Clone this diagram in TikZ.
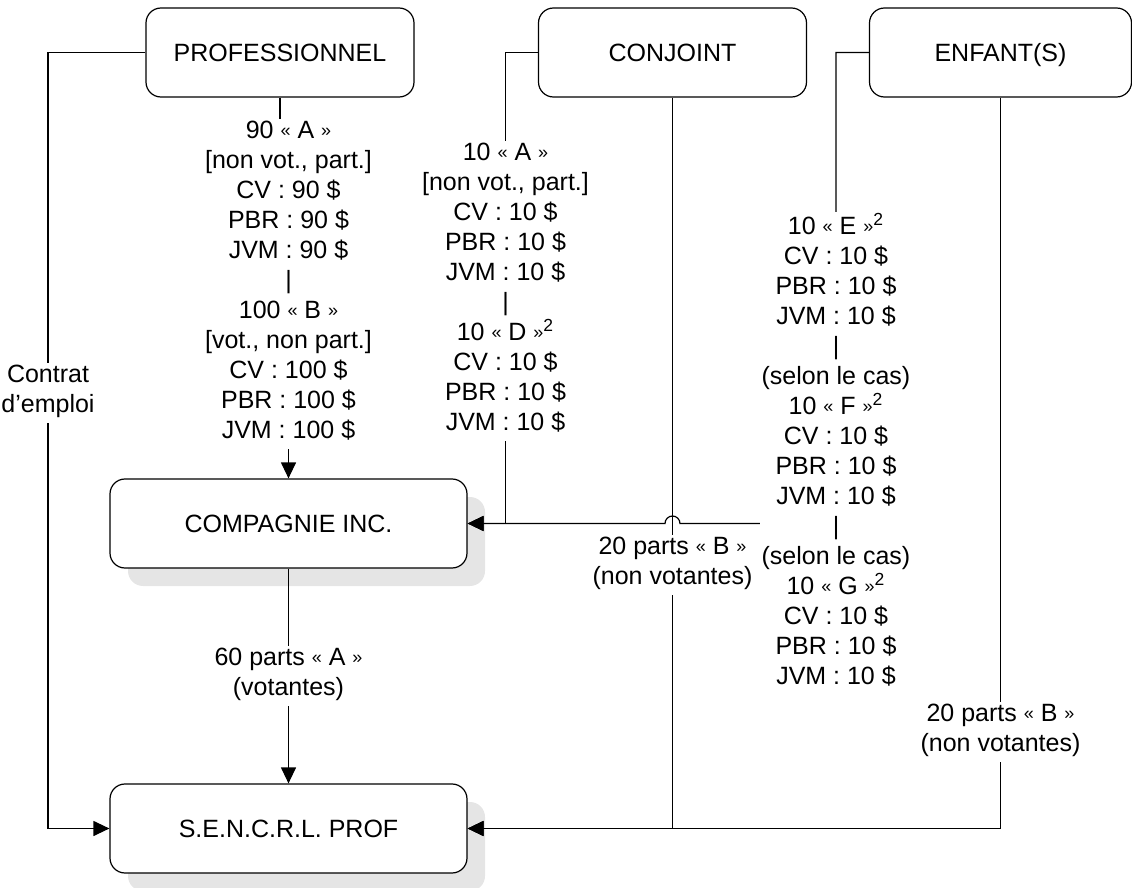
\documentclass[tikz,border=0pt]{standalone}
\usepackage{fontspec}
\setmainfont{Liberation Sans}
\usetikzlibrary{arrows.meta,shadows}
\newcommand{\txtfont}{\fontsize{12.5pt}{15pt}\selectfont}
\newcommand{\ouv}{\raisebox{0.8pt}{\fontsize{9pt}{15pt}\selectfont«}}
\newcommand{\fer}{\raisebox{0.8pt}{\fontsize{9pt}{15pt}\selectfont»}}
\tikzset{
	boite/.style={draw, line width=0.6pt, rounded corners=7.5pt, fill=white, minimum width=134pt, minimum height=44.5pt, text height=9pt, text depth=0pt, font=\txtfont},
	boiteombre/.style={boite, minimum width=178.5pt, drop shadow={shadow xshift=9pt, shadow yshift=-9pt, fill=black!10, opacity=1}},
	lien/.style={line width=0.6pt, -{Triangle[length=8pt,width=7.5pt]}},
	etiq/.style={fill=white, inner sep=1pt, align=center, font=\txtfont, execute at begin node=\strut, execute at end node=\strut}
}

\begin{document}
\begin{tikzpicture}[x=0.5pt,y=-0.5pt]
			%%%%% START %%%%%
			\useasboundingbox (0,0) rectangle (1132,888);
			
			\node[boite] (prof) at (280,52.5) {PROFESSIONNEL};
			\node[boite] (conj) at (672.5,52.5) {CONJOINT};
			\node[boite, minimum width=131pt] (enf) at (1000.5,52.5) {ENFANT(S)};
			\node[boiteombre] (comp) at (288.5,523.5) {COMPAGNIE INC.};
			\node[boiteombre] (sencrl) at (288.5,828.5) {S.E.N.C.R.L. PROF};
			\coordinate (saut) at (conj.south |- comp.east);
			
			\draw[lien] (prof.west) -| (48,393) node[etiq] (contrat) {Contrat\\d’emploi} |- (sencrl.west);
			
			\draw[lien] (prof.south) |- (288.5,284) node[etiq] (lprof) {90 \ouv{} A \fer\\{[}non vot., part.]\\CV : 90 \$\\PBR : 90 \$\\JVM : 90 \$\\|\\100 \ouv{} B \fer\\{[}vot., non part.]\\CV : 100 \$\\PBR : 100 \$\\JVM : 100 \$} -- (comp.north);
			
			\draw[lien] (conj.west) -| (505.5,291) node[etiq] (lconj) {10 \ouv{} A \fer\\{[}non vot., part.]\\CV : 10 \$\\PBR : 10 \$\\JVM : 10 \$\\|\\10 \ouv{} D \fer\textsuperscript{2}\\CV : 10 \$\\PBR : 10 \$\\JVM : 10 \$} |- (comp.east);
			
			\draw[lien] (enf.west) -| (836,453.5) node[etiq] (lenf) {10 \ouv{} E \fer\textsuperscript{2}\\CV : 10 \$\\PBR : 10 \$\\JVM : 10 \$\\|\\(selon le cas)\\10 \ouv{} F \fer\textsuperscript{2}\\CV : 10 \$\\PBR : 10 \$\\JVM : 10 \$\\|\\(selon le cas)\\10 \ouv{} G \fer\textsuperscript{2}\\CV : 10 \$\\PBR : 10 \$\\JVM : 10 \$} |- ([xshift=3.75pt]saut) arc[start angle=0, end angle=180, radius=3.75pt] -- (comp.east);
			
			\draw[lien] (comp.south) -- (288.5,676) node[etiq] (lvot) {60 parts \ouv{} A \fer\\(votantes)} -- (sencrl.north);
			\draw[lien] (conj.south) -- (672.5,565) node[etiq] (lconjb) {20 parts \ouv{} B \fer\\(non votantes)} |- (sencrl.east);
			\draw[lien] (enf.south) -- (1000.5,732) node[etiq] (lenfb) {20 parts \ouv{} B \fer\\(non votantes)} |- (sencrl.east);
			
			%%%%% END %%%%%
\end{tikzpicture}
\end{document}
